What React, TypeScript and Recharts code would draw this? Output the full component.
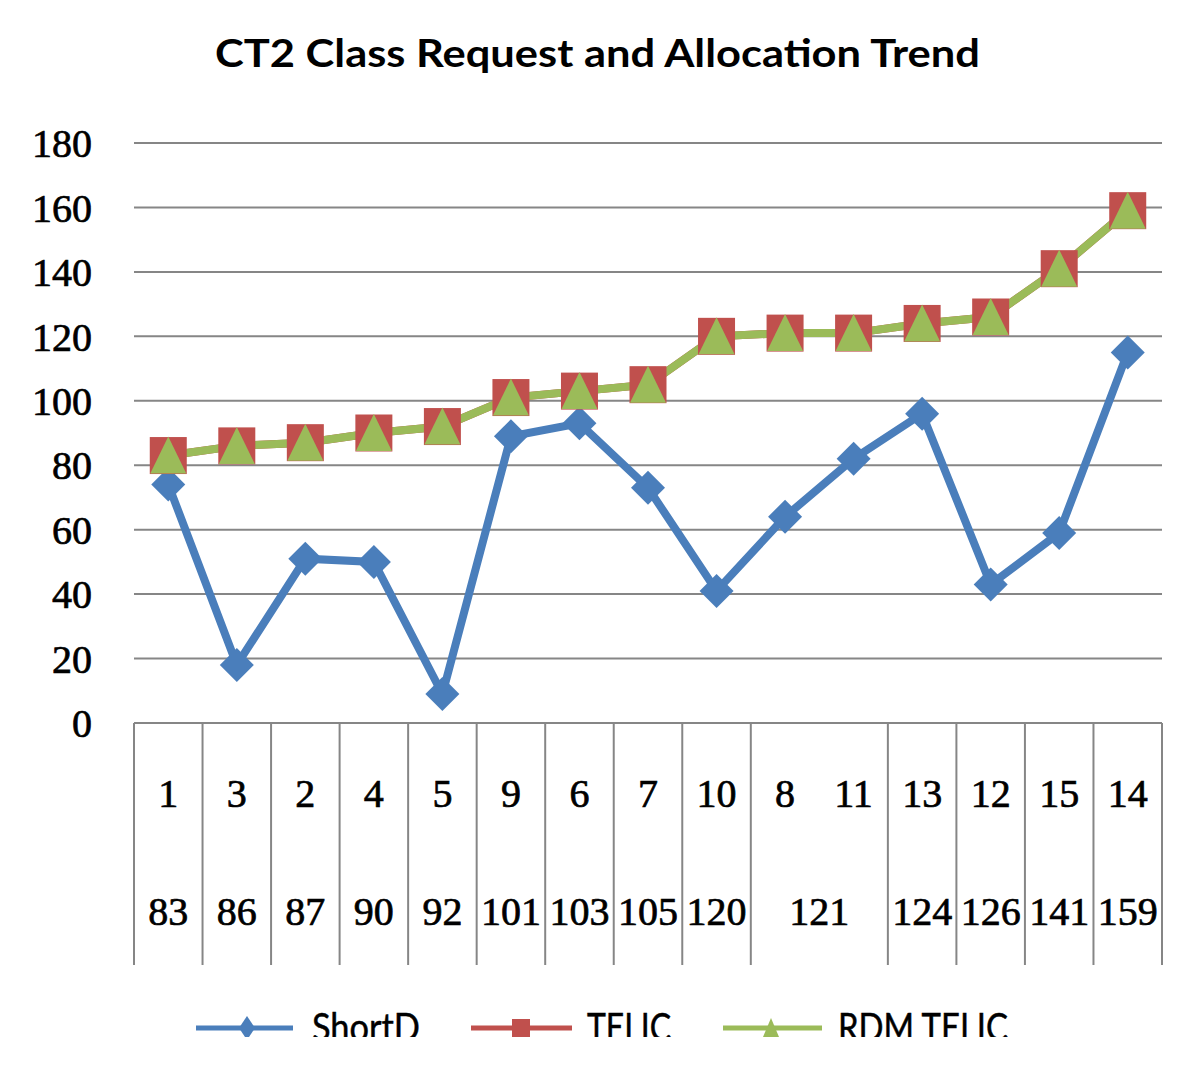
import { LineChart, Line, XAxis, YAxis, CartesianGrid } from 'recharts'

// x categories (class id) and the request totals shown in the second row
const categories = ['1', '3', '2', '4', '5', '9', '6', '7', '10', '8', '11', '13', '12', '15', '14']
const requestGroups = ['83', '86', '87', '90', '92', '101', '103', '105', '120', '121', '124', '126', '141', '159']
const groupSpans = [1, 1, 1, 1, 1, 1, 1, 1, 1, 2, 1, 1, 1, 1]

const shortD = [74, 18, 51, 50, 9, 89, 93, 73, 41, 64, 82, 96, 43, 59, 115]
const telic = [83, 86, 87, 90, 92, 101, 103, 105, 120, 121, 121, 124, 126, 141, 159]
const rdmTelic = [83, 86, 87, 90, 92, 101, 103, 105, 120, 121, 121, 124, 126, 141, 159]

const yTicks = [0, 20, 40, 60, 80, 100, 120, 140, 160, 180]

const BLUE = '#4A7EBB'
const RED = '#C0504D'
const GREEN = '#9BBB59'
const GRID = '#868686'
const SERIF = '"Liberation Serif", "DejaVu Serif", serif'
const SANS = 'Lato, "Open Sans", sans-serif'

const W = 1200
const H = 1070
const PLOT_LEFT = 134
const PLOT_RIGHT = 1162
const PLOT_TOP = 143
const PLOT_BOTTOM = 723
const Y_AXIS_W = 60
const X_AXIS_H = 250
const BAND = (PLOT_RIGHT - PLOT_LEFT) / categories.length

const data = categories.map((c, i) => ({
    name: c,
    shortD: shortD[i],
    telic: telic[i],
    rdmTelic: rdmTelic[i],
}))

// index of the category that starts each request group
const groupStarts: number[] = []
let acc = 0
groupSpans.forEach((s) => {
    groupStarts.push(acc)
    acc += s
})

const labelStyle = { fontFamily: SERIF, fontSize: 40, fill: '#000', stroke: '#000', strokeWidth: 0.7 }

function CategoryTick(props: any) {
    const { x, y, index, payload } = props
    const left = x - BAND / 2
    const g = groupStarts.indexOf(index)
    const last = index === categories.length - 1
    return (
        <g>
            {g >= 0 && <line x1={left} x2={left} y1={y} y2={y + 242} stroke={GRID} strokeWidth={2} />}
            {last && <line x1={x + BAND / 2} x2={x + BAND / 2} y1={y} y2={y + 242} stroke={GRID} strokeWidth={2} />}
            <text x={x} y={y + 70} dy="0.34em" textAnchor="middle" style={labelStyle}>
                {payload.value}
            </text>
            {g >= 0 && (
                <text x={left + (groupSpans[g] * BAND) / 2} y={y + 188} dy="0.34em" textAnchor="middle" style={labelStyle}>
                    {requestGroups[g]}
                </text>
            )}
        </g>
    )
}

const diamondDot = (p: any) => {
    const { cx, cy, index } = p
    const r = 17
    return (
        <polygon
            key={`d-${index}`}
            points={`${cx},${cy - r} ${cx + r},${cy} ${cx},${cy + r} ${cx - r},${cy}`}
            fill={BLUE}
        />
    )
}

const squareDot = (p: any) => {
    const { cx, cy, index } = p
    const s = 37
    return <rect key={`s-${index}`} x={cx - s / 2} y={cy - s / 2} width={s} height={s} fill={RED} />
}

const triangleDot = (p: any) => {
    const { cx, cy, index } = p
    return (
        <polygon
            key={`t-${index}`}
            points={`${cx},${cy - 19} ${cx + 18},${cy + 18} ${cx - 18},${cy + 18}`}
            fill={GREEN}
        />
    )
}

const legendItems = [
    { name: 'ShortD', color: BLUE, x1: 196, x2: 293, mx: 247, tx: 312, tw: 108, marker: 'diamond' },
    { name: 'TELIC', color: RED, x1: 471, x2: 572, mx: 521, tx: 587, tw: 84, marker: 'square' },
    { name: 'RDM TELIC', color: GREEN, x1: 723, x2: 822, mx: 771, tx: 838, tw: 170, marker: 'triangle' },
]

function LegendStrip() {
    const ly = 38
    return (
        <svg width={W} height={47} style={{ position: 'absolute', left: 0, top: 990 }}>
            {legendItems.map((it) => (
                <g key={it.name}>
                    <line x1={it.x1} x2={it.x2} y1={ly} y2={ly} stroke={it.color} strokeWidth={5} />
                    {it.marker === 'diamond' && (
                        <polygon points={`${it.mx},${ly - 12} ${it.mx + 8},${ly} ${it.mx},${ly + 12} ${it.mx - 8},${ly}`} fill={it.color} />
                    )}
                    {it.marker === 'square' && <rect x={it.mx - 9} y={ly - 9} width={18} height={18} fill={it.color} />}
                    {it.marker === 'triangle' && (
                        <polygon points={`${it.mx},${ly - 10} ${it.mx + 8},${ly + 9} ${it.mx - 8},${ly + 9}`} fill={it.color} />
                    )}
                    <text
                        x={it.tx}
                        y={51}
                        textLength={it.tw}
                        lengthAdjust="spacingAndGlyphs"
                        style={{ fontFamily: SANS, fontSize: 38, fill: '#000', stroke: '#000', strokeWidth: 0.5 }}
                    >
                        {it.name}
                    </text>
                </g>
            ))}
        </svg>
    )
}

export default function App() {
    return (
        <div style={{ position: 'absolute', left: 0, top: 0, width: W, height: H, background: '#fff', overflow: 'hidden' }}>
            <svg width={W} height={100} style={{ position: 'absolute', left: 0, top: 0 }}>
                <text
                    x={215}
                    y={67}
                    textLength={765}
                    lengthAdjust="spacingAndGlyphs"
                    style={{ fontFamily: SANS, fontWeight: 700, fontSize: 39, fill: '#000' }}
                >
                    CT2 Class Request and Allocation Trend
                </text>
            </svg>
            <div style={{ position: 'absolute', left: 0, top: 0 }}>
                <LineChart
                    width={W}
                    height={H}
                    data={data}
                    margin={{
                        top: PLOT_TOP,
                        right: W - PLOT_RIGHT,
                        bottom: H - PLOT_BOTTOM - X_AXIS_H,
                        left: PLOT_LEFT - Y_AXIS_W,
                    }}
                >
                    <CartesianGrid horizontal vertical={false} stroke={GRID} strokeWidth={2} />
                    <XAxis
                        dataKey="name"
                        scale="band"
                        height={X_AXIS_H}
                        axisLine={{ stroke: GRID, strokeWidth: 2 }}
                        tickLine={false}
                        tickSize={0}
                        tickMargin={0}
                        interval={0}
                        tick={<CategoryTick />}
                    />
                    <YAxis
                        width={Y_AXIS_W}
                        domain={[0, 180]}
                        ticks={yTicks}
                        axisLine={false}
                        tickLine={false}
                        tickSize={6}
                        tickMargin={36}
                        tick={labelStyle}
                    />
                    <Line
                        dataKey="shortD"
                        name="ShortD"
                        stroke={BLUE}
                        strokeWidth={8}
                        dot={diamondDot}
                        activeDot={false}
                        isAnimationActive={false}
                    />
                    <Line
                        dataKey="telic"
                        name="TELIC"
                        stroke={RED}
                        strokeWidth={8}
                        dot={squareDot}
                        activeDot={false}
                        isAnimationActive={false}
                    />
                    <Line
                        dataKey="rdmTelic"
                        name="RDM TELIC"
                        stroke={GREEN}
                        strokeWidth={8}
                        dot={triangleDot}
                        activeDot={false}
                        isAnimationActive={false}
                    />
                </LineChart>
            </div>
            <LegendStrip />
        </div>
    )
}
